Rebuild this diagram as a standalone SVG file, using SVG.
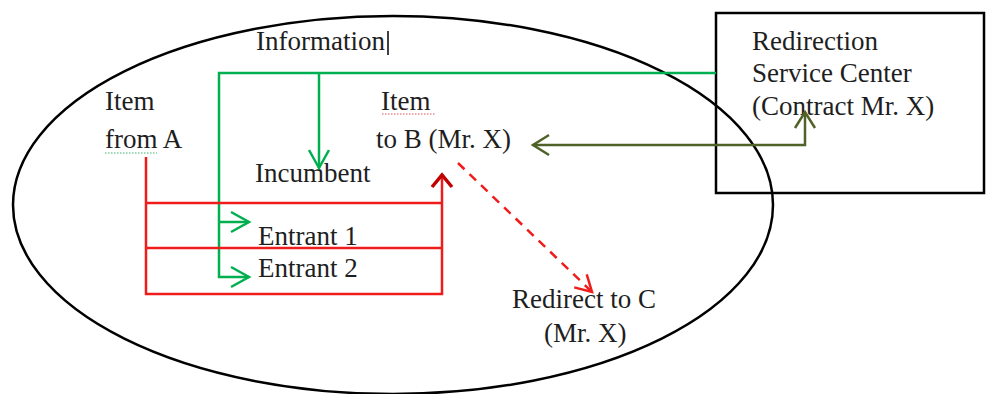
<svg xmlns="http://www.w3.org/2000/svg" width="986" height="394" viewBox="0 0 986 394">
<style>
text{font-family:"Liberation Serif","Times New Roman",serif;font-size:27px;fill:#1e1e1e}
.g{stroke:#00b050;stroke-width:2.5;fill:none}
.r{stroke:#f01c1c;stroke-width:2.5;fill:none}
.o{stroke:#4f6228;stroke-width:2.5;fill:none}
.sq{stroke-width:1.2;stroke-dasharray:1.5 1.5;fill:none}
</style>
<defs>
<marker id="ag" markerUnits="userSpaceOnUse" viewBox="-22 -12 24 24" markerWidth="24" markerHeight="24" refX="0" refY="0" orient="auto" overflow="visible"><path d="M-18,-10 L0,0 L-18,10" fill="none" stroke="#00b050" stroke-width="2.5"/></marker>
<marker id="ar" markerUnits="userSpaceOnUse" viewBox="-22 -12 24 24" markerWidth="24" markerHeight="24" refX="0" refY="0" orient="auto" overflow="visible"><path d="M-12,-10 L0,0 L-12,10" fill="none" stroke="#c00000" stroke-width="3.5"/></marker>
<marker id="ard" markerUnits="userSpaceOnUse" viewBox="-22 -12 24 24" markerWidth="24" markerHeight="24" refX="0" refY="0" orient="auto" overflow="visible"><path d="M-16,-9 L0,0 L-16,9" fill="none" stroke="#f01c1c" stroke-width="2.5"/></marker>
<marker id="ao" markerUnits="userSpaceOnUse" viewBox="-22 -12 24 24" markerWidth="24" markerHeight="24" refX="0" refY="0" orient="auto-start-reverse" overflow="visible"><path d="M-16,-10 L0,0 L-16,10" fill="none" stroke="#4f6228" stroke-width="2.5"/></marker>
</defs>
<rect width="986" height="394" fill="#fff"/>
<g id="market">
<ellipse cx="393" cy="205" rx="380" ry="189" fill="none" stroke="#000" stroke-width="2.5"/>
</g>
<g id="service-center">
<rect x="716" y="13" width="268" height="180" fill="none" stroke="#000" stroke-width="2.5"/>
<text x="752" y="50">Redirection</text>
<text x="752" y="82">Service Center</text>
<text x="752" y="115">(Contract Mr. X)</text>
</g>
<g id="information">
<text x="256" y="50">Information</text>
<line x1="388" y1="31" x2="388" y2="55" stroke="#000" stroke-width="1.5"/>
</g>
<g id="item-from-a">
<text x="105" y="110">Item</text>
<text x="105" y="148">from A</text>
<line class="sq" x1="105" y1="153" x2="157" y2="153" stroke="#3cb371"/>
</g>
<g id="item-to-b">
<text x="381" y="110">Item</text>
<text x="376" y="148">to B (Mr. X)</text>
<line class="sq" x1="382" y1="114" x2="435" y2="114" stroke="#e05050"/>
</g>
<g id="incumbent"><text x="255" y="182">Incumbent</text></g>
<g id="entrant1"><text x="258" y="245">Entrant 1</text></g>
<g id="entrant2"><text x="258" y="277">Entrant 2</text></g>
<g id="redirect-c">
<text x="512" y="308">Redirect to C</text>
<text x="544" y="342">(Mr. X)</text>
</g>
<g id="connectors">
<path class="g" d="M716,73 H219 V277 H249" marker-end="url(#ag)"/>
<path class="g" d="M219,222 H249" marker-end="url(#ag)"/>
<path class="g" d="M319,73 V168" marker-end="url(#ag)"/>
<path class="r" d="M146,157 V294 H442 V175" marker-end="url(#ar)"/>
<path class="r" d="M146,203 H442"/>
<path class="r" d="M146,248 H442"/>
<line class="r" x1="458" y1="163" x2="592" y2="292" stroke-dasharray="9 7" marker-end="url(#ard)"/>
<path class="o" d="M533,145 H805 V112" marker-start="url(#ao)" marker-end="url(#ao)"/>
</g>
</svg>
